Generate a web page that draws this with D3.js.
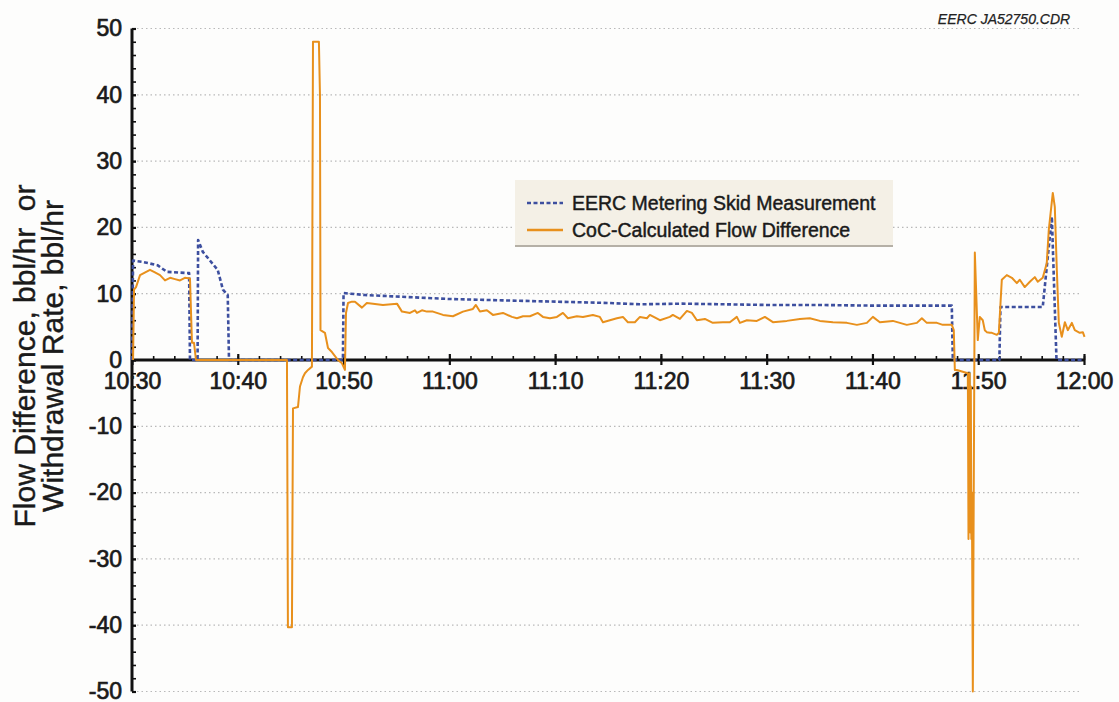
<!DOCTYPE html>
<html>
<head>
<meta charset="utf-8">
<script src="https://cdn.jsdelivr.net/npm/d3@7"></script>
<style>
  html, body { margin: 0; padding: 0; background: #fdfdfc; }
  svg { display: block; font-family: "Liberation Sans", Arial, sans-serif; }
</style>
</head>
<body>
<svg id="chart" width="1119" height="702"></svg>
<script>
// Time is given as minutes elapsed after 10:30.
const startClock = [10, 30];
const endMinutes = 90;

// EERC metering skid measurement (bbl/hr)
const skidMinutes = [0, 0.1, 1.0, 2.4, 3.3, 5.4, 5.48, 6.2, 6.25, 6.7, 8.1, 8.6, 9.05, 9.17,
  19.94, 20.0, 22, 26, 30, 35, 40, 45, 48, 52, 56, 60, 65, 70, 75, 77.5, 77.6,
  82.0, 82.1, 86.1, 86.96, 87.4, 90];
const skidValues = [0, 15.0, 14.8, 14.3, 13.3, 13.1, 0, 0, 18.1, 16.3, 13.6, 10.6, 9.8, 0,
  0, 10.1, 9.8, 9.5, 9.2, 9.0, 8.8, 8.6, 8.4, 8.5, 8.4, 8.3, 8.3, 8.2, 8.2, 8.2, 0,
  0, 8.0, 8.0, 21.6, 0, 0];

// CoC-calculated flow difference (bbl/hr)
const cocMinutes = [0.1, 0.19, 0.38, 0.76, 1.7, 2.17, 2.65, 3.12, 3.6, 4.06, 4.54, 5.0, 5.48, 5.67, 5.86, 6.05,
  14.65, 14.74, 15.12, 15.22, 15.69, 15.88, 16.16, 16.35, 16.64, 17.01, 17.11, 17.67, 17.77, 17.82,
  18.24, 18.53, 18.9, 19.19, 19.47, 19.85, 20.13, 20.23, 20.42, 20.79, 21.08, 21.74, 22.2, 22.78,
  23.72, 25.05, 25.52, 26.28, 26.75, 26.94, 27.41, 27.88, 28.45, 29.4, 30.34, 31.29, 32.23, 32.51,
  32.89, 33.55, 34.12, 35.07, 35.92, 36.39, 36.96, 37.62, 38.37, 38.85, 39.51, 40.17, 40.74, 41.21,
  42.06, 42.63, 43.57, 44.23, 44.52, 45.18, 45.84, 46.41, 46.88, 47.54, 48.02, 48.68, 48.96, 49.91,
  50.85, 51.13, 51.8, 52.46, 52.93, 53.4, 54.16, 54.91, 55.86, 56.52, 57.18, 57.47, 58.13, 59.07,
  59.83, 60.59, 61.91, 63.14, 64.08, 65.03, 66.26, 67.58, 68.53, 69.47, 70.04, 70.7, 71.93, 73.25,
  74.2, 74.67, 75.14, 76.09, 76.65, 77.5, 77.69, 77.79, 77.98, 79.02, 79.08, 79.12, 79.17, 79.2,
  79.25, 79.3, 79.35, 79.4, 79.49,
  79.68, 79.96, 80.15, 80.43, 80.62, 80.81, 81.1, 81.29, 81.76, 81.95, 82.23, 82.7, 83.18, 83.65,
  83.93, 84.4, 84.88, 85.35, 85.63, 86.1, 86.48, 86.67, 87.05, 87.24, 87.43, 87.62, 87.9, 88.19,
  88.47, 88.85, 89.13, 89.6, 89.89, 90.05];
const cocValues = [0, 10.6, 11.0, 12.8, 13.6, 13.2, 12.8, 12.0, 12.4, 12.2, 12.0, 12.4, 12.3, 2.6, 2.6, 0,
  0, -40.3, -40.3, -7.3, -7.1, -4.0, -2.6, -2.0, -1.5, -1.0, 48.0, 48.0, 40.0, 4.5,
  4.1, 1.8, 1.2, 0.6, 0, -0.5, -1.5, 7.1, 8.6, 8.8, 8.8, 7.9, 8.6, 8.5,
  8.3, 8.5, 7.3, 7.1, 7.5, 7.1, 7.5, 7.3, 7.3, 6.8, 6.6, 7.3, 7.7, 8.3,
  7.3, 7.5, 6.8, 7.1, 6.5, 6.3, 6.6, 6.6, 7.1, 6.5, 6.3, 6.5, 7.1, 6.3,
  6.6, 6.5, 6.8, 6.5, 5.7, 6.0, 6.3, 6.5, 5.7, 5.7, 6.5, 6.3, 6.8, 6.0,
  6.5, 6.8, 6.2, 7.4, 7.1, 6.0, 6.2, 5.6, 5.7, 5.7, 6.5, 5.6, 6.0, 5.9,
  6.5, 5.7, 5.9, 6.2, 6.3, 5.9, 5.7, 5.6, 5.3, 5.6, 6.5, 5.7, 5.9, 5.3,
  5.6, 6.3, 5.6, 5.6, 5.3, 5.3, 4.5, -1.5, -1.5, -2.0, -27.0, -3.0, -25.0, -2.0,
  -26.0, -4.0, -27.0, -20.0, -50.0,
  16.2, 3.0, 6.5, 6.0, 4.5, 4.2, 4.1, 4.1, 3.8, 4.1, 12.1, 12.8, 12.4, 11.6,
  12.1, 11.0, 11.8, 12.5, 11.8, 12.4, 14.6, 19.6, 25.2, 23.1, 13.6, 5.6, 3.5, 5.7,
  4.5, 5.6, 4.5, 4.1, 4.2, 3.5];

const seriesNames = ["EERC Metering Skid Measurement", "CoC-Calculated Flow Difference"];
const seriesColors = ["#3d4f9f", "#e8901c"];
const yTickValues = [-50, -40, -30, -20, -10, 0, 10, 20, 30, 40, 50];
const yTitleLines = ["Flow Difference, bbl/hr  or", "Withdrawal Rate, bbl/hr"];
const drawingId = "EERC JA52750.CDR";

const svg = d3.select("#chart");
const base = new Date(2000, 0, 1, startClock[0], startClock[1]);
const toDate = m => new Date(base.getTime() + m * 60000);

const x = d3.scaleTime().domain([base, toDate(endMinutes)]).range([132, 1084]);
const y = d3.scaleLinear().domain([-50, 50]).range([691.5, 28.5]);

const labelInk = "#1a1a1a";

// dotted horizontal gridlines
svg.append("g").selectAll("line")
  .data(yTickValues.filter(v => v !== 0))
  .join("line")
  .attr("x1", 137).attr("x2", 1080)
  .attr("y1", d => y(d)).attr("y2", d => y(d))
  .attr("stroke", "#b9b9b9").attr("stroke-width", 1.2)
  .attr("stroke-dasharray", "1.5,3");

// y axis: major ticks with labels, minor ticks every 2
const yAxis = svg.append("g").attr("transform", `translate(${x.range()[0]},0)`)
  .call(d3.axisLeft(y).tickValues(yTickValues).tickFormat(d => String(d))
    .tickSize(6).tickPadding(4).tickSizeOuter(0));
yAxis.select(".domain").remove();
yAxis.selectAll(".tick line").attr("x2", 4).attr("stroke", "#111").attr("stroke-width", 2.2);
yAxis.selectAll(".tick text").attr("font-size", 23).attr("fill", labelInk)
  .attr("font-family", "Liberation Sans, Arial, sans-serif")
  .attr("stroke", labelInk).attr("stroke-width", 0.7);
const yMinor = svg.append("g").attr("transform", `translate(${x.range()[0]},0)`)
  .call(d3.axisRight(y).tickValues(d3.range(-50, 51, 2)).tickSize(4).tickFormat(""));
yMinor.select(".domain").remove();
yMinor.selectAll(".tick line").attr("stroke", "#111").attr("stroke-width", 1.6);
svg.append("line").attr("x1", x.range()[0]).attr("x2", x.range()[0])
  .attr("y1", y(50)).attr("y2", y(-50)).attr("stroke", "#111").attr("stroke-width", 3);

// x axis along zero: major ticks every 10 minutes, minor every 2
const xAxis = svg.append("g").attr("transform", `translate(0,${y(0)})`)
  .call(d3.axisBottom(x).ticks(d3.timeMinute.every(10)).tickFormat(d3.timeFormat("%H:%M"))
    .tickSize(5).tickPadding(8).tickSizeOuter(0));
xAxis.select(".domain").remove();
xAxis.selectAll(".tick line").attr("y1", -6).attr("stroke", "#111").attr("stroke-width", 2.2);
xAxis.selectAll(".tick text").attr("font-size", 23).attr("fill", labelInk)
  .attr("font-family", "Liberation Sans, Arial, sans-serif")
  .attr("stroke", labelInk).attr("stroke-width", 0.7);
const xMinor = svg.append("g").attr("transform", `translate(0,${y(0)})`)
  .call(d3.axisTop(x).ticks(d3.timeMinute.every(2)).tickSize(4).tickFormat(""));
xMinor.select(".domain").remove();
xMinor.selectAll(".tick line").attr("stroke", "#111").attr("stroke-width", 1.6);
svg.append("line").attr("x1", x.range()[0]).attr("x2", x.range()[1] + 1)
  .attr("y1", y(0)).attr("y2", y(0)).attr("stroke", "#111").attr("stroke-width", 3);

// data lines
const line = d3.line().x(d => x(toDate(d[0]))).y(d => y(d[1]));
const skid = skidMinutes.map((m, i) => [m, skidValues[i]]);
const coc = cocMinutes.map((m, i) => [m, cocValues[i]]);

svg.append("path").datum(skid).attr("d", line)
  .attr("fill", "none").attr("stroke", seriesColors[0]).attr("stroke-width", 2.6)
  .attr("stroke-dasharray", "4,2.5").attr("stroke-linejoin", "round");
svg.append("path").datum(coc).attr("d", line)
  .attr("fill", "none").attr("stroke", seriesColors[1]).attr("stroke-width", 2)
  .attr("stroke-linejoin", "round");

// legend
const legend = svg.append("g").attr("transform", "translate(515,180)");
legend.append("rect").attr("x", 0).attr("y", 64).attr("width", 378).attr("height", 3)
  .attr("fill", "#b5b0a6");
legend.append("rect").attr("width", 378).attr("height", 65).attr("fill", "#f4f0e6");
const items = legend.selectAll("g.item").data(seriesNames).join("g")
  .attr("class", "item")
  .attr("transform", (d, i) => `translate(12,${23 + i * 27})`);
items.append("line").attr("x1", 0).attr("x2", 36)
  .attr("stroke", (d, i) => seriesColors[i])
  .attr("stroke-width", (d, i) => i === 0 ? 2.6 : 2.4)
  .attr("stroke-dasharray", (d, i) => i === 0 ? "4,2.5" : null);
items.append("text").attr("x", 45).attr("dy", "0.36em")
  .attr("font-size", 19.5).attr("fill", labelInk)
  .attr("stroke", labelInk).attr("stroke-width", 0.45)
  .text(d => d);

// drawing identifier
svg.append("text").attr("x", 1004).attr("y", 24).attr("text-anchor", "middle")
  .attr("font-size", 14).attr("font-style", "italic").attr("fill", "#222")
  .attr("stroke", "#222").attr("stroke-width", 0.25)
  .text(drawingId);

// y axis title
const yTitle = svg.append("g").attr("transform", "rotate(-90)");
yTitle.selectAll("text").data(yTitleLines).join("text")
  .attr("x", -356).attr("y", (d, i) => 35 + i * 28)
  .attr("text-anchor", "middle").attr("font-size", 30).attr("fill", labelInk)
  .attr("stroke", labelInk).attr("stroke-width", 0.4)
  .style("white-space", "pre")
  .text(d => d);
</script>
</body>
</html>
